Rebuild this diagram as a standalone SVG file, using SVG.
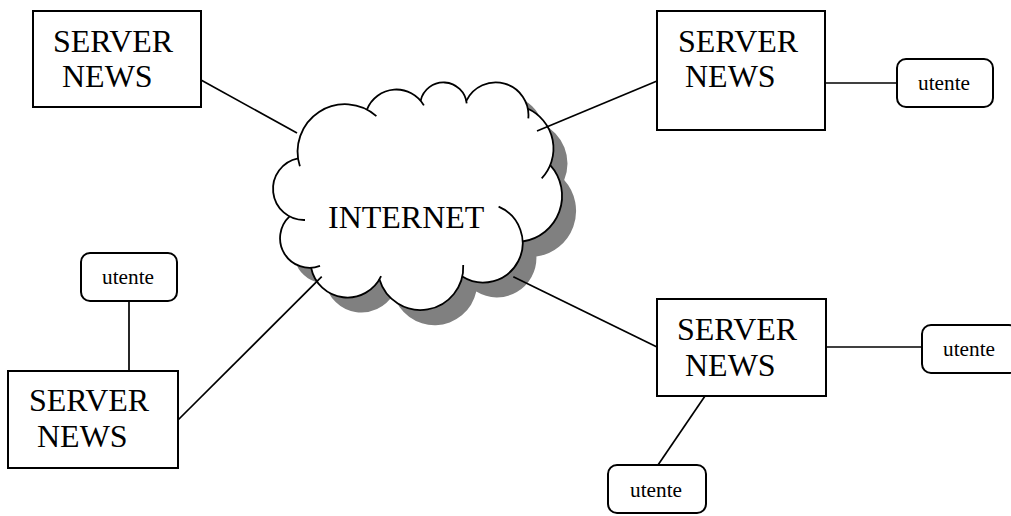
<svg xmlns="http://www.w3.org/2000/svg" width="1011" height="516" viewBox="0 0 1011 516">
<defs>
<style>
.box{fill:#fff;stroke:#000;stroke-width:2}
.usr{fill:#fff;stroke:#000;stroke-width:2}
.big{font-family:"Liberation Serif","Times New Roman",serif;font-size:32px;fill:#000}
.sm{font-family:"Liberation Serif","Times New Roman",serif;font-size:21.3px;fill:#000}
.ln{stroke:#000;stroke-width:1.7;fill:none}
.arc{stroke:#000;stroke-width:1.8;fill:none;stroke-linecap:butt}
</style>
<path id="cloudShape" d="M298.1,158.4 A47.4,47.4 0 0 1 366.9,109.6 A31.7,31.7 0 0 1 420.6,100.7 A23.4,23.4 0 0 1 466.3,100.9 A32.7,32.7 0 0 1 527.9,108.8 A43.6,43.6 0 0 1 550.2,165.1 A46,46 0 0 1 522.4,241.5 A39.5,39.5 0 0 1 462.3,276.6 A42.8,42.8 0 0 1 379.4,279.3 A37.1,37.1 0 0 1 311.1,267.7 A29.6,29.6 0 0 1 289.6,216.4 A31.1,31.1 0 0 1 298.1,158.4 Z"/>
</defs>
<rect width="1011" height="516" fill="#fff"/>
<g id="internet">
<use href="#cloudShape" transform="translate(14,15)" fill="#808080"/>
<use href="#cloudShape" fill="#fff"/>
<path class="arc" d="M299.9,166.2 A47.4,47.4 0 0 1 376.4,116.1"/>
<path class="arc" d="M366.9,109.6 A31.7,31.7 0 0 1 423.9,105.4"/>
<path class="arc" d="M420.6,100.7 A23.4,23.4 0 0 1 466.7,103.4"/>
<path class="arc" d="M466.3,100.9 A32.7,32.7 0 0 1 528.3,118.3"/>
<path class="arc" d="M527.9,108.8 A43.6,43.6 0 0 1 541.7,178.3"/>
<path class="arc" d="M550.2,165.1 A46,46 0 0 1 522.4,241.5"/>
<path class="arc" d="M498.6,206.7 A39.5,39.5 0 1 1 462.3,276.6"/>
<path class="arc" d="M463.2,265 A42.8,42.8 0 0 1 379.4,279.3"/>
<path class="arc" d="M381.1,276.1 A37.1,37.1 0 0 1 311.1,267.7"/>
<path class="arc" d="M320,265.9 A29.6,29.6 0 0 1 289.6,216.4"/>
<path class="arc" d="M305,220 A31.1,31.1 0 0 1 298.1,158.4"/>
<text class="big" x="328" y="228">INTERNET</text>
</g>
<g id="connectors">
<line class="ln" x1="201" y1="80" x2="297" y2="133"/>
<line class="ln" x1="657" y1="81" x2="537" y2="131"/>
<line class="ln" x1="825" y1="83" x2="897" y2="83"/>
<line class="ln" x1="129" y1="301" x2="129" y2="371"/>
<line class="ln" x1="178" y1="420" x2="321.7" y2="276.7"/>
<line class="ln" x1="513.3" y1="276.7" x2="657" y2="347"/>
<line class="ln" x1="826" y1="347" x2="922" y2="347"/>
<line class="ln" x1="705" y1="396" x2="658" y2="465"/>
</g>
<g id="server1">
<rect class="box" x="33" y="11" width="168" height="96"/>
<text class="big" x="53" y="52">SERVER</text>
<text class="big" x="62" y="87">NEWS</text>
</g>
<g id="server2">
<rect class="box" x="657" y="11" width="168" height="119"/>
<text class="big" x="678" y="52">SERVER</text>
<text class="big" x="685" y="87">NEWS</text>
</g>
<g id="server3">
<rect class="box" x="8" y="371" width="170" height="97"/>
<text class="big" x="29" y="411">SERVER</text>
<text class="big" x="37" y="447">NEWS</text>
</g>
<g id="server4">
<rect class="box" x="657" y="299" width="169" height="97"/>
<text class="big" x="677" y="340">SERVER</text>
<text class="big" x="685" y="376">NEWS</text>
</g>
<g id="utente1">
<rect class="usr" x="897" y="59" width="96" height="48" rx="9"/>
<text class="sm" x="918" y="90">utente</text>
</g>
<g id="utente2">
<rect class="usr" x="81" y="253" width="96" height="48" rx="9"/>
<text class="sm" x="102" y="284">utente</text>
</g>
<g id="utente3">
<rect class="usr" x="922" y="325" width="96" height="48" rx="9"/>
<text class="sm" x="943" y="356">utente</text>
</g>
<g id="utente4">
<rect class="usr" x="608" y="465" width="98" height="48" rx="9"/>
<text class="sm" x="630" y="497">utente</text>
</g>
</svg>
